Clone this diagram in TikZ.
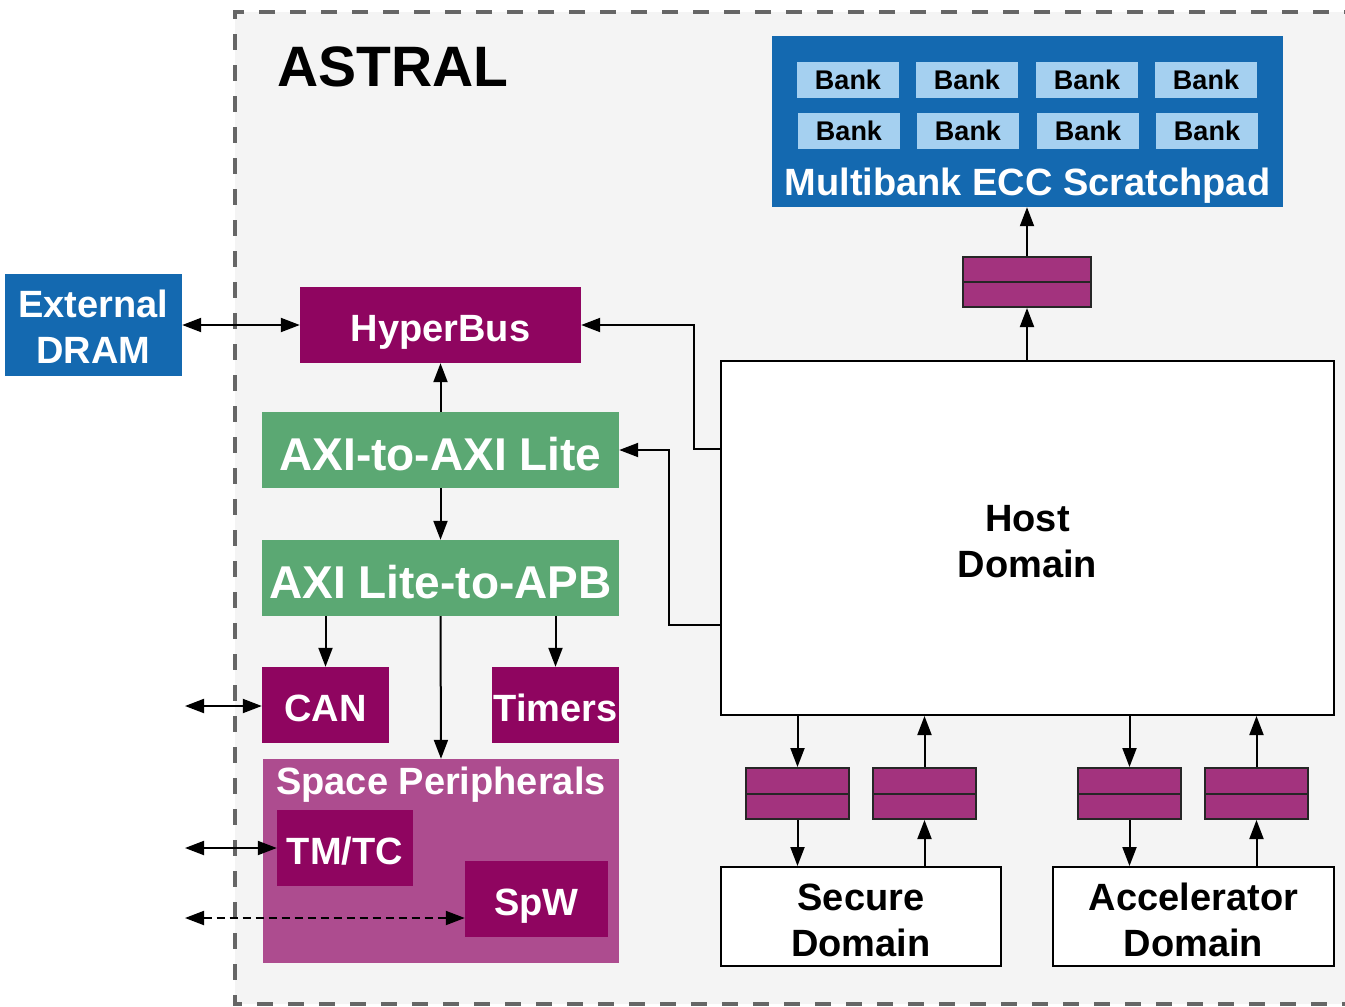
\documentclass[tikz,border=0pt]{standalone}
\usepackage{fontspec}
\setmainfont{Liberation Sans}
\usetikzlibrary{arrows.meta,calc}
\definecolor{dblue}{RGB}{20,105,176}
\definecolor{lblue}{RGB}{165,208,240}
\definecolor{purp}{RGB}{143,5,96}
\definecolor{spc}{RGB}{173,76,143}
\definecolor{regc}{RGB}{163,51,126}
\definecolor{grn}{RGB}{91,168,115}
\definecolor{bgc}{RGB}{244,244,244}
\definecolor{bordergray}{RGB}{102,102,102}
\newcommand{\firstline}[1]{\rule{0pt}{#1}}
\begin{document}
\begin{tikzpicture}[x=1pt,y=-1pt,
  box/.style={inner sep=0pt, anchor=center, text=white, align=center,
    font=\fontsize{38}{46}\selectfont\bfseries, text height=33pt, text depth=0pt},
  mbox/.style={inner sep=0pt, anchor=center, text=white, align=center,
    font=\fontsize{38}{46}\selectfont\bfseries},
  bigbox/.style={box, font=\fontsize{46}{50}\selectfont\bfseries, text height=40pt, text depth=0pt},
  bankbox/.style={inner sep=0pt, anchor=center, fill=lblue, text=black, minimum width=102pt, minimum height=36pt,
    font=\fontsize{27}{30}\selectfont\bfseries},
  dombox/.style={mbox, draw=black, fill=white, text=black, line width=2pt},
  regbox/.style={inner sep=0pt, draw=black!85, fill=regc, line width=2pt,
    minimum width=103pt, minimum height=51pt,
    path picture={\draw[line width=2pt, black!85] (path picture bounding box.west) -- (path picture bounding box.east);}},
  arr/.style={line width=2pt, -{Triangle[length=19pt,width=14pt]}},
  barr/.style={line width=2pt, {Triangle[length=19pt,width=14pt]}-{Triangle[length=19pt,width=14pt]}}
  ]
\clip (0,0) rectangle (1345,1007);
% background
\fill[white] (0,0) rectangle (1345,1007);
\draw[draw=bordergray, fill=bgc, line width=4pt, dash pattern=on 16pt off 15pt] (1360,12) -- (235,12) -- (235,1004) -- (1360,1004);
\node[anchor=base west, inner sep=0pt, font=\fontsize{57}{60}\selectfont\bfseries] (title) at (277,86) {ASTRAL};

% external DRAM
\node[mbox, fill=dblue, minimum width=177pt, minimum height=102pt] (dram) at (93.5,325) {\firstline{30pt}External\\DRAM};

% left column
\node[box, fill=purp, minimum width=281pt, minimum height=76pt] (hyper) at (440.5,325) {HyperBus};
\node[bigbox, fill=grn, minimum width=357pt, minimum height=76pt] (axi) at (440.5,450) {AXI-to-AXI Lite};
\node[bigbox, fill=grn, minimum width=357pt, minimum height=76pt] (apb) at (440.5,578) {AXI Lite-to-APB};
\node[box, fill=purp, minimum width=127pt, minimum height=76pt] (can) at (325.5,705) {CAN};
\node[box, fill=purp, minimum width=127pt, minimum height=76pt] (tim) at (555.5,705) {Timers};
\node[box, fill=spc, minimum width=356pt, minimum height=204pt] (space) at (441,861) {};
\node[box] (spt) at (441,778) {Space Peripherals};
\node[box, fill=purp, minimum width=136pt, minimum height=76pt] (tmtc) at (345,848) {TM/TC};
\node[box, fill=purp, minimum width=143pt, minimum height=76pt] (spw) at (536.5,899) {SpW};

% scratchpad
\node[box, fill=dblue, minimum width=511pt, minimum height=171pt] (mb) at (1027.5,121.5) {};
\node[box] (mbt) at (1027.5,179) {Multibank ECC Scratchpad};
\node[bankbox] (b1) at (848,80) {Bank};
\node[bankbox] (b2) at (967,80) {Bank};
\node[bankbox] (b3) at (1087,80) {Bank};
\node[bankbox] (b4) at (1206,80) {Bank};
\node[bankbox] (b5) at (849,131) {Bank};
\node[bankbox] (b6) at (968,131) {Bank};
\node[bankbox] (b7) at (1088,131) {Bank};
\node[bankbox] (b8) at (1207,131) {Bank};

% domains
\node[dombox, minimum width=613pt, minimum height=354pt] (host) at (1027.5,538) {\firstline{34pt}Host\\Domain};
\node[dombox, minimum width=280pt, minimum height=99pt] (sec) at (861,916.5) {\firstline{35pt}Secure\\Domain};
\node[dombox, minimum width=281pt, minimum height=99pt] (acc) at (1193.5,916.5) {\firstline{35pt}Accelerator\\Domain};

% register slices
\node[regbox, minimum width=128pt, minimum height=50pt] (r0) at (1027,282) {};
\node[regbox] (r1) at (797.5,793.5) {};
\node[regbox] (r2) at (924.5,793.5) {};
\node[regbox] (r3) at (1129.5,793.5) {};
\node[regbox] (r4) at (1256.5,793.5) {};

% external coordinates
\coordinate (xcan) at (185,706);
\coordinate (xtm) at (185,848);
\coordinate (xspw) at (185,918);

% connectors
\draw[barr] (dram.east) -- (hyper.west);
\draw[arr] (axi.north) -- (hyper.south);
\draw[arr] (axi.south) -- (apb.north);
\draw[arr] (apb.south -| can.north) -- (can.north);
\draw[arr] (apb.south -| tim.north) -- (tim.north);
\draw[arr] (apb.south) -- (space.north);
\draw[barr] (xcan) -- (xcan -| can.west);
\draw[barr] (xtm) -- (xtm -| tmtc.west);
\draw[barr, dash pattern=on 8pt off 5pt] (xspw) -- (xspw -| spw.west);
\draw[arr] ([yshift=-89pt]host.north west) -- ++(-26,0) |- (hyper.east);
\draw[arr] ([yshift=-265pt]host.north west) -- ++(-51,0) |- (axi.east);
\draw[arr] (host.north -| r0.south) -- (r0.south);
\draw[arr] (r0.north) -- (r0.north |- mb.south);
\draw[arr] (host.south -| r1.north) -- (r1.north);
\draw[arr] (r1.south) -- (r1.south |- sec.north);
\draw[arr] (r2.south |- sec.north) -- (r2.south);
\draw[arr] (r2.north) -- (r2.north |- host.south);
\draw[arr] (host.south -| r3.north) -- (r3.north);
\draw[arr] (r3.south) -- (r3.south |- acc.north);
\draw[arr] (r4.south |- acc.north) -- (r4.south);
\draw[arr] (r4.north) -- (r4.north |- host.south);
\end{tikzpicture}
\end{document}
